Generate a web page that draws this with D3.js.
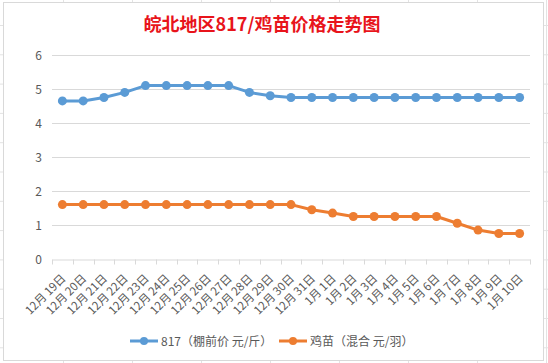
<!DOCTYPE html>
<html>
<head>
<meta charset="utf-8">
<script src="https://cdn.jsdelivr.net/npm/d3@7"></script>
<style>
  body { margin: 0; background: #fff; }
  text { font-family: "Noto Sans CJK SC", "Microsoft YaHei", sans-serif; }
</style>
</head>
<body>
<script>
// 数据
const dates = ["12月19日","12月20日","12月21日","12月22日","12月23日","12月24日","12月25日","12月26日",
  "12月27日","12月28日","12月29日","12月30日","12月31日","1月1日","1月2日","1月3日","1月4日",
  "1月5日","1月6日","1月7日","1月8日","1月9日","1月10日"];
const price817 = [4.65,4.65,4.75,4.9,5.1,5.1,5.1,5.1,5.1,4.9,4.8,4.75,4.75,4.75,4.75,4.75,4.75,
  4.75,4.75,4.75,4.75,4.75,4.75];
const priceChick = [1.6,1.6,1.6,1.6,1.6,1.6,1.6,1.6,1.6,1.6,1.6,1.6,1.45,1.35,1.25,1.25,1.25,
  1.25,1.25,1.05,0.85,0.75,0.75];
const yTicks = [0,1,2,3,4,5,6];
const seriesNames = ["817（棚前价 元/斤）", "鸡苗（混合 元/羽）"];
const colors = ["#5b9bd5", "#ed7d31"];

const W = 548, H = 363;
const svg = d3.select("body").append("svg").attr("width", W).attr("height", H);

// 表格背景线
const bg = svg.append("g").attr("stroke", "#e3e3e3").attr("stroke-width", 1);
d3.range(0, 8).forEach(i => bg.append("line")
  .attr("x1", 63.5 + i * 69).attr("x2", 63.5 + i * 69).attr("y1", 0).attr("y2", H));
d3.range(0, 13).forEach(i => bg.append("line")
  .attr("y1", 25.5 + i * 29.3).attr("y2", 25.5 + i * 29.3).attr("x1", 0).attr("x2", W));

// 图表区
svg.append("rect").attr("x", 3.5).attr("y", 2.5).attr("width", 540).attr("height", 358)
  .attr("fill", "#fff").attr("stroke", "#d9d9d9");

const x = d3.scaleBand().domain(dates).range([52, 530]);
const y = d3.scaleLinear().domain([0, 6]).range([259, 55]);

// 标题
svg.append("text").attr("x", 262).attr("y", 31).attr("text-anchor", "middle")
  .attr("fill", "#e8141b").attr("font-size", 18).attr("font-weight", "bold")
  .text("皖北地区817/鸡苗价格走势图");

// 网格线
svg.append("g").selectAll("line").data(yTicks.slice(1)).join("line")
  .attr("x1", 52).attr("x2", 530)
  .attr("y1", d => Math.round(y(d)) + 0.5).attr("y2", d => Math.round(y(d)) + 0.5)
  .attr("stroke", "#d9d9d9");

// y轴标签
svg.append("g").selectAll("text").data(yTicks).join("text")
  .attr("x", 42).attr("y", d => y(d) + 4.5).attr("text-anchor", "end")
  .attr("fill", "#595959").attr("font-size", 12).text(d => d);

// x轴
const xAxis = d3.axisBottom(x).tickSize(0).tickFormat("");
const gx = svg.append("g").attr("transform", "translate(0," + (Math.round(y(0)) + 0.5) + ")").call(xAxis);
gx.select(".domain").attr("stroke", "#d9d9d9");
gx.selectAll(".tick").remove();
gx.selectAll(".tk").data(d3.range(dates.length + 1)).join("line")
  .attr("x1", i => Math.round(52 + i * x.step()) + 0.5).attr("x2", i => Math.round(52 + i * x.step()) + 0.5)
  .attr("y1", 0).attr("y2", 5).attr("stroke", "#d9d9d9");

svg.append("g").selectAll("text").data(dates).join("text")
  .attr("transform", d => "translate(" + (x(d) + x.bandwidth() / 2 + 4) + ",279) rotate(-45)")
  .attr("text-anchor", "end").attr("fill", "#595959").attr("font-size", 11.5)
  .text(d => d.replace("月", "月 "));

// 折线
const series = [price817, priceChick];
const line = d3.line().x((d, i) => x(dates[i]) + x.bandwidth() / 2).y(d => y(d));
series.forEach((vals, k) => {
  svg.append("path").datum(vals).attr("d", line).attr("fill", "none")
    .attr("stroke", colors[k]).attr("stroke-width", 3).attr("stroke-linejoin", "round");
  svg.append("g").selectAll("circle").data(vals).join("circle")
    .attr("cx", (d, i) => x(dates[i]) + x.bandwidth() / 2).attr("cy", d => y(d))
    .attr("r", 4.5).attr("fill", colors[k]);
});

// 图例
const legX = [130, 279];
seriesNames.forEach((name, k) => {
  const g = svg.append("g").attr("transform", "translate(" + legX[k] + ",341)");
  g.append("line").attr("x1", 0).attr("x2", 28).attr("stroke", colors[k]).attr("stroke-width", 3);
  g.append("circle").attr("cx", 14).attr("r", 4).attr("fill", colors[k]);
  g.append("text").attr("x", 31).attr("y", 4.5).attr("fill", "#595959").attr("font-size", 12).text(name);
});
</script>
</body>
</html>
